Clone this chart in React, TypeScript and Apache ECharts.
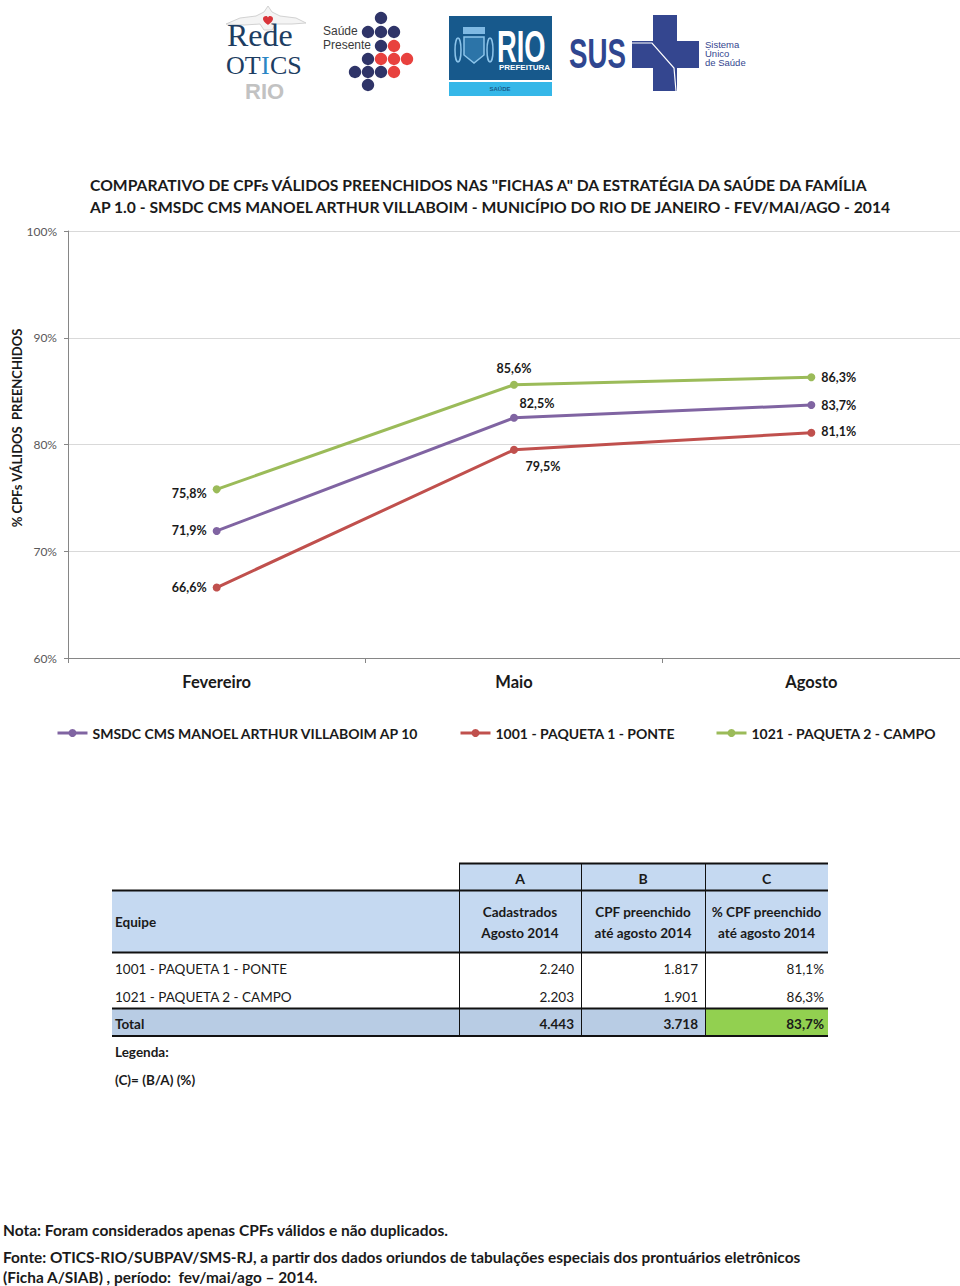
import React, { useEffect, useRef } from "react";
import * as echarts from "echarts";

// ---------- data ----------
const months = ["Fevereiro", "Maio", "Agosto"];
const seriesNames = [
  "SMSDC CMS MANOEL ARTHUR VILLABOIM AP 10",
  "1001 - PAQUETA 1 - PONTE",
  "1021 - PAQUETA 2 - CAMPO",
];
const cmsValues = [71.9, 82.5, 83.7];
const ponteValues = [66.6, 79.5, 81.1];
const campoValues = [75.8, 85.6, 86.3];
const yMin = 60;
const yMax = 100;
const yStep = 10;

const titleLines = [
  'COMPARATIVO DE CPFs VÁLIDOS PREENCHIDOS NAS "FICHAS A" DA ESTRATÉGIA DA SAÚDE DA FAMÍLIA',
  "AP 1.0 - SMSDC CMS MANOEL ARTHUR VILLABOIM - MUNICÍPIO DO RIO DE JANEIRO - FEV/MAI/AGO - 2014",
];
const yAxisName = "% CPFs VÁLIDOS  PREENCHIDOS";

const tableLetters = ["A", "B", "C"];
const tableHeaders = [
  ["Cadastrados", "Agosto 2014"],
  ["CPF preenchido", "até agosto 2014"],
  ["% CPF preenchido", "até agosto 2014"],
];
const teamNames = ["1001 - PAQUETA 1 - PONTE", "1021 - PAQUETA 2 - CAMPO"];
const cadastrados = ["2.240", "2.203"];
const preenchidos = ["1.817", "1.901"];
const percentuais = ["81,1%", "86,3%"];
const totalRow = ["Total", "4.443", "3.718", "83,7%"];
const legendaLines = ["Legenda:", "(C)= (B/A) (%)"];
const footerLines = [
  "Nota: Foram considerados apenas CPFs válidos e não duplicados.",
  "Fonte: OTICS-RIO/SUBPAV/SMS-RJ, a partir dos dados oriundos de tabulações especiais dos prontuários eletrônicos",
  "(Ficha A/SIAB) , período:  fev/mai/ago – 2014.",
];

// ---------- styles ----------
const FONT = 'Lato, "Open Sans", sans-serif';
const SANS = '"Liberation Sans", Arial, sans-serif';
const SERIF = '"Liberation Serif", serif';
const PURPLE = "#8064A2";
const RED = "#C0504D";
const GREEN = "#9BBB59";
const DARK = "#1a1a1a";

echarts.graphic.registerShape(
  "heart",
  echarts.graphic.extendPath(
    "M5,10 C3,8 0,6 0,3 C0,1 1.5,0 3,0 C4,0 4.8,0.8 5,1.6 C5.2,0.8 6,0 7,0 C8.5,0 10,1 10,3 C10,6 7,8 5,10 Z",
    {}
  )
);

const fmtPct = (v: number) => v.toFixed(1).replace(".", ",") + "%";

type LP = { position: string; offset?: number[] };
const cmsLabelPos: LP[] = [
  { position: "left" },
  { position: "top", offset: [23, 2] },
  { position: "right" },
];
const ponteLabelPos: LP[] = [
  { position: "left" },
  { position: "bottom", offset: [29, 0] },
  { position: "right", offset: [0, -1] },
];
const campoLabelPos: LP[] = [
  { position: "left", offset: [0, 4] },
  { position: "top" },
  { position: "right" },
];

function makeSeries(name: string, values: number[], color: string, pos: LP[]) {
  return {
    type: "line",
    name,
    data: values.map((v, i) => ({ value: v, label: pos[i] })),
    symbol: "circle",
    symbolSize: 8,
    lineStyle: { width: 3, color },
    itemStyle: { color },
    label: {
      show: true,
      fontFamily: FONT,
      fontSize: 12.5,
      fontWeight: "bold",
      color: DARK,
      distance: 6,
      formatter: (p: any) => fmtPct(p.value),
    },
  };
}

function txt(x: number, y: number, text: string, o: any = {}) {
  const el: any = {
    type: "text",
    x,
    y,
    silent: true,
    style: {
      text,
      fontFamily: o.fontFamily || FONT,
      fontSize: o.fontSize || 13,
      fontWeight: o.fontWeight || "normal",
      fill: o.fill || DARK,
      align: o.align || "left",
      verticalAlign: "middle",
    },
  };
  if (o.scaleX) el.scaleX = o.scaleX;
  if (o.rotation) el.rotation = o.rotation;
  return el;
}
function rect(x: number, y: number, w: number, h: number, fill: string) {
  return { type: "rect", silent: true, shape: { x, y, width: w, height: h }, style: { fill } };
}
function hline(x1: number, x2: number, y: number, w: number, color = "#111") {
  return { type: "line", silent: true, shape: { x1, y1: y, x2, y2: y }, style: { stroke: color, lineWidth: w } };
}
function vline(x: number, y1: number, y2: number, w: number, color = "#111") {
  return { type: "line", silent: true, shape: { x1: x, y1, x2: x, y2 }, style: { stroke: color, lineWidth: w } };
}

function buildLogos() {
  const els: any[] = [];
  // Rede OTICS RIO
  els.push({
    type: "polygon",
    silent: true,
    shape: {
      points: [
        [226, 24], [240, 18], [256, 16], [264, 12], [268, 6], [272, 12], [280, 16], [296, 18], [306, 23],
        [292, 24], [276, 24], [272, 30], [264, 30], [260, 24], [244, 25],
      ],
    },
    style: { fill: "#f4f4f4", stroke: "#d2d2d2", lineWidth: 1 },
  });
  els.push({ type: "heart", silent: true, x: 263, y: 16, scaleX: 1, scaleY: 0.9, style: { fill: "#d9343a" } });
  els.push(txt(227, 35, "Rede", { fontFamily: SERIF, fontSize: 32, fill: "#1d3d62" }));
  els.push(txt(226, 65, "OT", { fontFamily: SERIF, fontSize: 26, fill: "#1d3d62" }));
  els.push(txt(261, 65, "I", { fontFamily: SERIF, fontSize: 26, fill: "#2b86c5" }));
  els.push(txt(270, 65, "CS", { fontFamily: SERIF, fontSize: 26, fill: "#1d3d62" }));
  els.push(txt(245, 91, "RIO", { fontFamily: SANS, fontSize: 22, fontWeight: "bold", fill: "#c2c2c2" }));

  // Saúde Presente
  els.push(txt(323, 31, "Saúde", { fontFamily: SANS, fontSize: 12, fill: "#3a3a3a" }));
  els.push(txt(323, 45, "Presente", { fontFamily: SANS, fontSize: 12, fill: "#3a3a3a" }));
  const colsX = [355, 368, 381, 394, 407];
  const rowsY = [18, 32, 46, 59, 72, 85];
  const pattern: [number, number, string][] = [
    [0, 2, "d"],
    [1, 1, "d"], [1, 2, "d"], [1, 3, "d"],
    [2, 2, "d"], [2, 3, "r"],
    [3, 1, "d"], [3, 2, "r"], [3, 3, "r"], [3, 4, "r"],
    [4, 0, "d"], [4, 1, "d"], [4, 2, "d"], [4, 3, "r"],
    [5, 1, "d"],
  ];
  pattern.forEach(([r, c, k]) =>
    els.push({
      type: "circle",
      silent: true,
      shape: { cx: colsX[c], cy: rowsY[r], r: 6.2 },
      style: { fill: k === "d" ? "#2f3468" : "#e8413e" },
    })
  );

  // RIO Prefeitura
  els.push(rect(449, 16, 103, 64, "#17598c"));
  els.push(rect(449, 82, 103, 14, "#35b7e8"));
  els.push(txt(500, 89, "SAÚDE", { fontFamily: SANS, fontSize: 6, fontWeight: "bold", fill: "#1b5a88", align: "center" }));
  els.push(rect(463, 27, 22, 7, "#7fb9e3"));
  els.push({
    type: "polygon",
    silent: true,
    shape: { points: [[464, 37], [484, 37], [484, 55], [474, 63], [464, 55]] },
    style: { fill: "#2c74a8", stroke: "#8cc4ea", lineWidth: 1.5 },
  });
  els.push({ type: "ellipse", silent: true, shape: { cx: 458, cy: 50, rx: 3, ry: 12 }, style: { fill: "none", stroke: "#8cc4ea", lineWidth: 1.5 } });
  els.push({ type: "ellipse", silent: true, shape: { cx: 490, cy: 50, rx: 3, ry: 12 }, style: { fill: "none", stroke: "#8cc4ea", lineWidth: 1.5 } });
  els.push(txt(497, 47, "RIO", { fontFamily: SANS, fontSize: 44, fontWeight: "bold", fill: "#ffffff", scaleX: 0.62 }));
  els.push(txt(499, 67, "PREFEITURA", { fontFamily: SANS, fontSize: 8, fontWeight: "bold", fill: "#ffffff" }));

  // SUS
  els.push(txt(569, 54, "SUS", { fontFamily: SANS, fontSize: 42, fontWeight: "bold", fill: "#2f4690", scaleX: 0.66 }));
  els.push(rect(653, 15, 24, 76, "#34468f"));
  els.push(rect(632, 41, 67, 27, "#34468f"));
  els.push({
    type: "polyline",
    silent: true,
    shape: { points: [[632, 43], [652, 43], [674, 68], [676, 91]] },
    style: { stroke: "#ffffff", lineWidth: 1.2, fill: "none" },
  });
  els.push(txt(705, 44, "Sistema", { fontFamily: SANS, fontSize: 9.5, fill: "#34468f" }));
  els.push(txt(705, 53, "Único", { fontFamily: SANS, fontSize: 9.5, fill: "#34468f" }));
  els.push(txt(705, 62, "de Saúde", { fontFamily: SANS, fontSize: 9.5, fill: "#34468f" }));
  return els;
}

function buildTable() {
  const els: any[] = [];
  const xL = 112;
  const cx = [459, 581, 705, 828];
  const HEAD_BLUE = "#C5D9F1";
  const TOT_BLUE = "#B8CCE4";
  const fs = 13.5;
  els.push(rect(cx[0], 863, cx[3] - cx[0], 27, HEAD_BLUE));
  els.push(rect(xL, 890, cx[3] - xL, 62, HEAD_BLUE));
  els.push(rect(xL, 1008, cx[2] - xL, 28, TOT_BLUE));
  els.push(rect(cx[2], 1008, cx[3] - cx[2], 28, "#92D050"));
  els.push(hline(cx[0], cx[3], 863.5, 2));
  els.push(hline(xL, cx[3], 890.5, 2));
  els.push(hline(xL, cx[3], 952.5, 2));
  els.push(hline(xL, cx[3], 1008.5, 2));
  els.push(hline(xL, cx[3], 1036, 2));
  for (let i = 0; i < 3; i++) els.push(vline(cx[i] + 0.5, 863, 1036, 1));
  for (let i = 0; i < 3; i++) {
    const mid = (cx[i] + cx[i + 1]) / 2;
    els.push(txt(mid, 878, tableLetters[i], { fontWeight: "bold", fontSize: 14, align: "center" }));
    els.push(txt(mid, 912, tableHeaders[i][0], { fontWeight: "bold", fontSize: fs, align: "center" }));
    els.push(txt(mid, 933, tableHeaders[i][1], { fontWeight: "bold", fontSize: fs, align: "center" }));
  }
  els.push(txt(115, 922, "Equipe", { fontWeight: "bold", fontSize: fs }));
  const rowY = [969, 997];
  teamNames.forEach((n, r) => {
    els.push(txt(115, rowY[r], n, { fontSize: fs }));
    els.push(txt(cx[1] - 7, rowY[r], cadastrados[r], { fontSize: fs, align: "right" }));
    els.push(txt(cx[2] - 7, rowY[r], preenchidos[r], { fontSize: fs, align: "right" }));
    els.push(txt(cx[3] - 4, rowY[r], percentuais[r], { fontSize: fs, align: "right" }));
  });
  els.push(txt(115, 1024, totalRow[0], { fontSize: fs, fontWeight: "bold" }));
  els.push(txt(cx[1] - 7, 1024, totalRow[1], { fontSize: fs, fontWeight: "bold", align: "right" }));
  els.push(txt(cx[2] - 7, 1024, totalRow[2], { fontSize: fs, fontWeight: "bold", align: "right" }));
  els.push(txt(cx[3] - 4, 1024, totalRow[3], { fontSize: fs, fontWeight: "bold", align: "right" }));
  els.push(txt(115, 1052, legendaLines[0], { fontSize: fs, fontWeight: "bold" }));
  els.push(txt(115, 1080, legendaLines[1], { fontSize: fs, fontWeight: "bold" }));
  return els;
}

function buildFooter() {
  return [
    txt(3, 1230, footerLines[0], { fontSize: 15.5, fontWeight: "bold" }),
    txt(3, 1257, footerLines[1], { fontSize: 15.4, fontWeight: "bold" }),
    txt(3, 1277, footerLines[2], { fontSize: 15.4, fontWeight: "bold" }),
  ];
}

export default function App() {
  const ref = useRef<HTMLDivElement>(null);
  useEffect(() => {
    if (!ref.current) return;
    const chart = echarts.init(ref.current, undefined, { renderer: "svg" });
    const legendCommon = {
      itemWidth: 30,
      itemHeight: 10,
      top: 726,
      padding: 0,
      lineStyle: { width: 3 },
      textStyle: { fontFamily: FONT, fontSize: 14, fontWeight: "bold", color: DARK },
    };
    chart.setOption({
      animation: false,
      backgroundColor: "#ffffff",
      title: {
        text: titleLines.join("\n"),
        left: 90,
        top: 174,
        padding: 0,
        textStyle: { fontFamily: FONT, fontSize: 15.7, fontWeight: "bold", color: DARK, lineHeight: 22 },
      },
      legend: [
        { ...legendCommon, data: [seriesNames[0]], left: 56 },
        { ...legendCommon, data: [seriesNames[1]], left: 459 },
        { ...legendCommon, data: [seriesNames[2]], left: 715 },
      ],
      grid: { left: 68, right: 0, top: 231, bottom: 628, containLabel: false },
      xAxis: {
        type: "category",
        data: months,
        boundaryGap: true,
        axisLine: { lineStyle: { color: "#868686", width: 1 } },
        axisTick: { show: true, length: 5, lineStyle: { color: "#868686" } },
        axisLabel: { fontFamily: FONT, fontSize: 16.5, fontWeight: "bold", color: DARK, margin: 15 },
      },
      yAxis: {
        type: "value",
        min: yMin,
        max: yMax,
        interval: yStep,
        axisLine: { show: true, lineStyle: { color: "#868686" } },
        axisTick: { show: true, length: 4, lineStyle: { color: "#868686" } },
        splitLine: { lineStyle: { color: "#D9D9D9", width: 1 } },
        axisLabel: {
          fontFamily: FONT,
          fontSize: 12,
          color: "#595959",
          margin: 11,
          formatter: (v: number) => v + "%",
        },
      },
      series: [
        makeSeries(seriesNames[0], cmsValues, PURPLE, cmsLabelPos),
        makeSeries(seriesNames[1], ponteValues, RED, ponteLabelPos),
        makeSeries(seriesNames[2], campoValues, GREEN, campoLabelPos),
      ],
      graphic: [
        ...buildLogos(),
        txt(17, 428, yAxisName, { fontSize: 13, fontWeight: "bold", align: "center", rotation: Math.PI / 2 }),
        ...buildTable(),
        ...buildFooter(),
      ],
    });
    return () => chart.dispose();
  }, []);
  return (
    <div
      ref={ref}
      style={{ position: "absolute", left: 0, top: 0, width: 960, height: 1286, background: "#fff" }}
    />
  );
}
